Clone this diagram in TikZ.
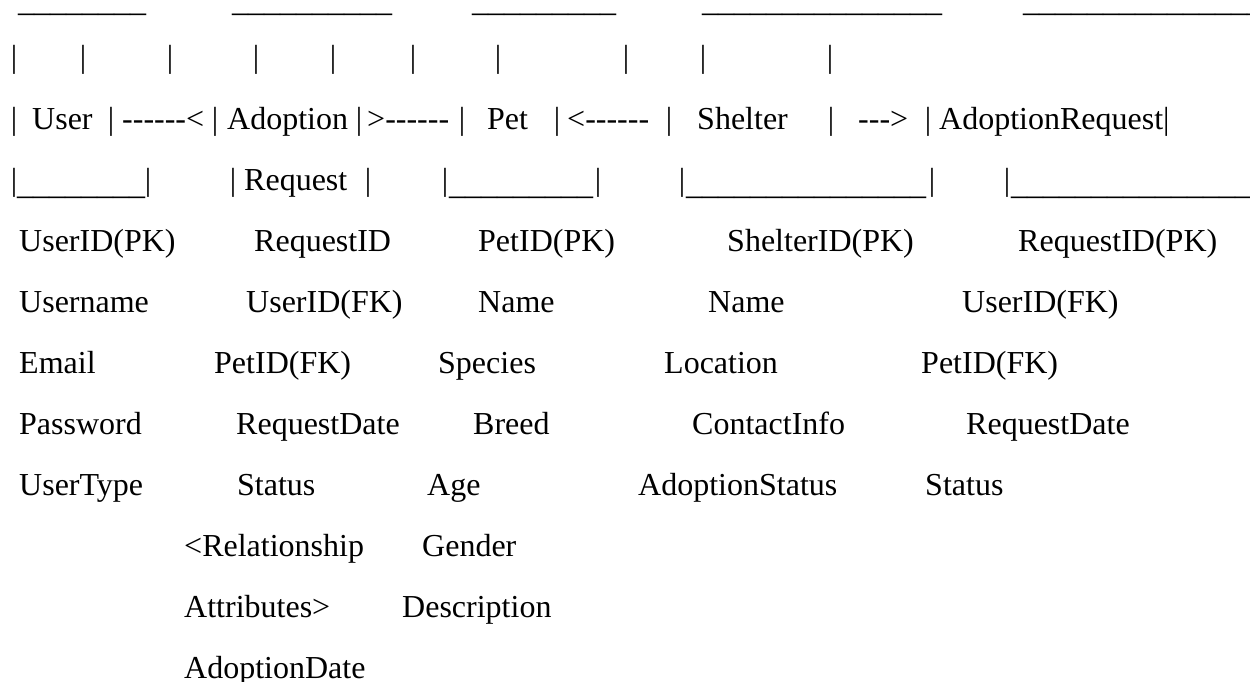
\documentclass[tikz,border=0pt]{standalone}
\usepackage{fontspec}
\setmainfont{Liberation Serif}[Ligatures=TeXOff]
\usetikzlibrary{positioning}

\begin{document}
\begin{tikzpicture}[x=1pt, y=-1pt,
    txt/.style={anchor=base west, inner sep=0pt, font=\fontsize{32}{38}\selectfont},
    bar/.style={txt, anchor=base}]
  \useasboundingbox (0,0) rectangle (1250,682);
  % top edges of the boxes
  \node[txt] (top-1) at (18,11.5) {\_\_\_\_\_\_\_\_};
  \node[txt] (top-2) at (232,11.5) {\_\_\_\_\_\_\_\_\_\_};
  \node[txt] (top-3) at (472,11.5) {\_\_\_\_\_\_\_\_\_};
  \node[txt] (top-4) at (702,11.5) {\_\_\_\_\_\_\_\_\_\_\_\_\_\_\_};
  \node[txt] (top-5) at (1023,11.5) {\_\_\_\_\_\_\_\_\_\_\_\_\_\_\_};
  \foreach \x [count=\i] in {14,83,170,256,333,413,498,626,703,830}
    \node[bar] (side-\i) at (\x,67.96) {|};
  % entity names and relationships
  \foreach \x/\t [count=\i] in {14/|,111/|,215/|,359/|,462/|,557/|,669/|,831/|,928/|}
    \node[bar] (sep-\i) at (\x,129.02) {\t};
  \node[txt] (user) at (32,129.02) {User};
  \node[txt] (rel-1) at (122,129.02) {------<};
  \node[txt] (adopt) at (227,129.02) {Adoption};
  \node[txt] (rel-2) at (367,129.02) {>------};
  \node[txt] (pet) at (487,129.02) {Pet};
  \node[txt] (rel-3) at (567,129.02) {<------};
  \node[txt] (shelter) at (697,129.02) {Shelter};
  \node[txt] (rel-4) at (858,129.02) {--->};
  \node[txt] (areq) at (939,129.02) {AdoptionRequest|};
  % bottom edges
  \foreach \x [count=\i] in {14,148,233,368,445,598,682,932,1007}
    \node[bar] (foot-\i) at (\x,190.08) {|};
  \node[txt] (bot-1) at (17,194) {\_\_\_\_\_\_\_\_};
  \node[txt] (request) at (244,190.08) {Request};
  \node[txt] (bot-2) at (449,194) {\_\_\_\_\_\_\_\_\_};
  \node[txt] (bot-3) at (686,194) {\_\_\_\_\_\_\_\_\_\_\_\_\_\_\_};
  \node[txt] (bot-4) at (1011,194) {\_\_\_\_\_\_\_\_\_\_\_\_\_\_\_};
  % attributes
  \foreach \x/\t [count=\i from 5] in {19/UserID(PK),19/Username,19/Email,19/Password,19/UserType}
    \node[txt] (user-\i) at (\x,{6.9+(\i-1)*61.06}) {\t};
  \foreach \x/\t [count=\i from 5] in {254/RequestID,246/UserID(FK),214/PetID(FK),236/RequestDate,237/Status,184/<Relationship,184/Attributes>,184/AdoptionDate}
    \node[txt] (req-\i) at (\x,{6.9+(\i-1)*61.06}) {\t};
  \foreach \x/\t [count=\i from 5] in {478/PetID(PK),478/Name,438/Species,473/Breed,427/Age,422/Gender,402/Description}
    \node[txt] (pet-\i) at (\x,{6.9+(\i-1)*61.06}) {\t};
  \foreach \x/\t [count=\i from 5] in {727/ShelterID(PK),708/Name,664/Location,692/ContactInfo,638/AdoptionStatus}
    \node[txt] (shelter-\i) at (\x,{6.9+(\i-1)*61.06}) {\t};
  \foreach \x/\t [count=\i from 5] in {1018/RequestID(PK),962/UserID(FK),921/PetID(FK),966/RequestDate,925/Status}
    \node[txt] (areq-\i) at (\x,{6.9+(\i-1)*61.06}) {\t};
\end{tikzpicture}
\end{document}
